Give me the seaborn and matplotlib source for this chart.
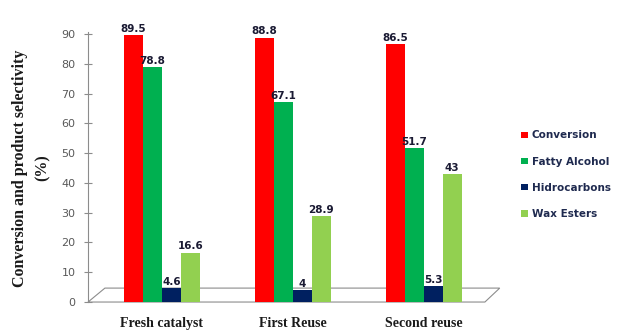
import matplotlib
matplotlib.use('Agg')
import matplotlib.pyplot as plt
import seaborn as sns
import pandas as pd
from matplotlib.patches import Polygon

# data
stages = ['Fresh catalyst', 'First Reuse', 'Second reuse']
series = ['Conversion', 'Fatty Alcohol', 'Hidrocarbons', 'Wax Esters']
conversion = [89.5, 88.8, 86.5]
fatty_alcohol = [78.8, 67.1, 51.7]
hidrocarbons = [4.6, 4.0, 5.3]
wax_esters = [16.6, 28.9, 43.0]
yticks = [0, 10, 20, 30, 40, 50, 60, 70, 80, 90]

colors = ['#ff0000', '#00b050', '#002060', '#92d050']

rows = []
for name, vals in zip(series, [conversion, fatty_alcohol, hidrocarbons, wax_esters]):
    for st, v in zip(stages, vals):
        rows.append({'stage': st, 'series': name, 'value': v})
df = pd.DataFrame(rows)

sns.set_style('white')
fig = plt.figure(figsize=(6.2, 3.33), dpi=100)
ax = fig.add_axes([0.142, 0.093, 0.664, 0.805])

sns.barplot(data=df, x='stage', y='value', hue='series', order=stages,
            hue_order=series, palette=colors, width=0.58, saturation=1,
            edgecolor='none', ax=ax, zorder=3)

for cont in ax.containers:
    labels = [f'{v:g}' for v in cont.datavalues]
    ax.bar_label(cont, labels=labels, padding=1, fontsize=7.5,
                 fontweight='bold', color='#1a1a33', zorder=5)

# 3d-ish floor
floor = Polygon([(0, 0), (0.964, 0), (1.0, 0.052), (0.041, 0.052)],
                closed=True, transform=ax.transAxes, facecolor='white',
                edgecolor='#8c8c8c', lw=0.8, clip_on=False, zorder=1)
ax.add_patch(floor)

ax.set_xlim(-0.565, 2.58)
ax.set_ylim(0, 90)
ax.set_yticks(yticks)
ax.tick_params(axis='y', direction='inout', length=6, color='#8c8c8c',
               labelsize=8, labelcolor='#595959', pad=6, left=True)
ax.tick_params(axis='x', length=0, pad=11)
for lab in ax.get_xticklabels():
    lab.set_fontfamily('Liberation Serif')
    lab.set_fontweight('bold')
    lab.set_fontsize(10)
    lab.set_color('#1a1a1a')

for s in ['top', 'right', 'bottom']:
    ax.spines[s].set_visible(False)
ax.spines['left'].set_color('#8c8c8c')
ax.spines['left'].set_linewidth(0.8)
ax.spines['left'].set_bounds(0, 90.5)

ax.set_xlabel('')
ax.set_ylabel('Conversion and product selectivity\n(%)', fontfamily='Liberation Serif',
              fontweight='bold', fontsize=11.5, color='#1a1a1a', labelpad=8,
              linespacing=1.5)

ax.legend(loc='center left', bbox_to_anchor=(1.03, 0.475), frameon=False,
          handlelength=0.6, handleheight=0.6, handletextpad=0.4,
          labelspacing=1.55, prop={'size': 7.5, 'weight': 'bold'},
          labelcolor='#1f2a4f')

fig.savefig('out.png', dpi=100)
